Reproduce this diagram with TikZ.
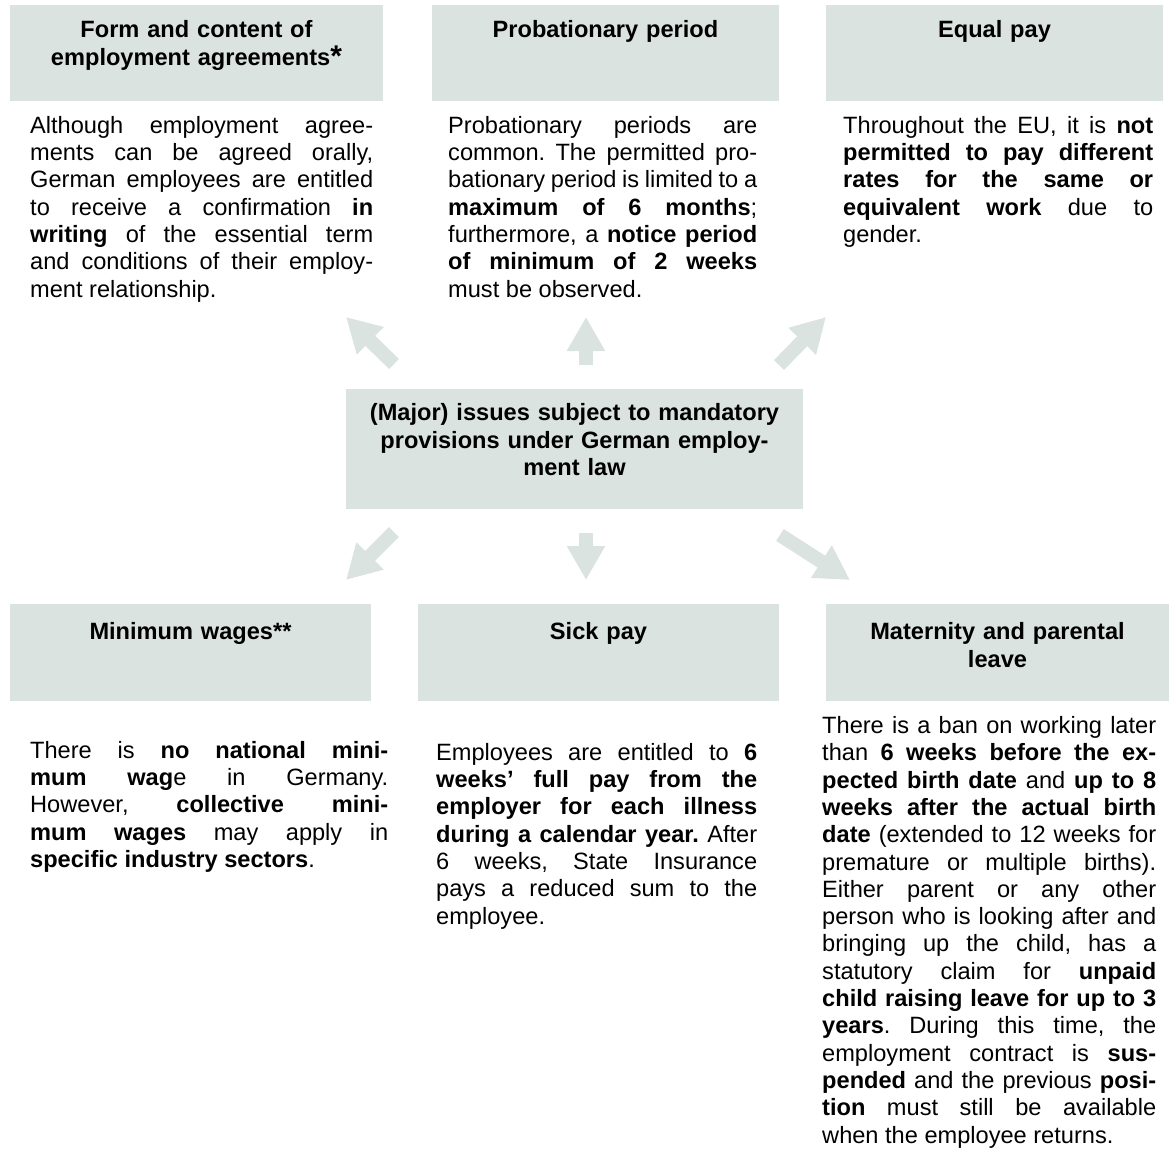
\documentclass[tikz,border=0pt]{standalone}
\usepackage{fontspec}
\setmainfont{Liberation Sans}
\usetikzlibrary{arrows.meta}
\definecolor{panelfill}{RGB}{218,227,224}
\newcommand{\txtsize}{\fontsize{23.6}{27.3}\selectfont}
\newcommand{\bodysetup}{\txtsize\frenchspacing\tolerance=10000 \hyphenpenalty=10000 \parindent=0pt}
\newcommand{\topstrut}{\rule{0pt}{20pt}}
\setlength{\parindent}{0pt}
\frenchspacing

\begin{document}
\begin{tikzpicture}[x=1pt,y=-1pt,
  panel/.style={fill=panelfill, draw=none, inner sep=0pt, anchor=north west},
  headtext/.style={font=\txtsize\bfseries, align=center, inner sep=0pt, anchor=north},
  bodytext/.style={font=\bodysetup, align=justify, inner sep=0pt, anchor=north west},
  fatarrow/.style={draw=panelfill, line width=14pt, -{Triangle[length=34pt,width=36pt]}}]

\fill[white] (0,0) rectangle (1169,1151);
\useasboundingbox (0,0) rectangle (1169,1151);

% --- grey header panels ---
\node[panel, minimum width=373pt, minimum height=96pt] (b1) at (10,5) {};
\node[panel, minimum width=347pt, minimum height=96pt] (b2) at (432,5) {};
\node[panel, minimum width=337pt, minimum height=96pt] (b3) at (826,5) {};
\node[panel, minimum width=457pt, minimum height=120pt] (hub) at (346,389) {};
\node[panel, minimum width=361pt, minimum height=97pt] (b4) at (10,604) {};
\node[panel, minimum width=361pt, minimum height=97pt] (b5) at (418,604) {};
\node[panel, minimum width=343pt, minimum height=97pt] (b6) at (826,604) {};

% --- header titles ---
\node[headtext, text width=353pt] (h1) at (196.5,17.3)
  {\topstrut Form and content of\\[1pt]
   employment agreements\raisebox{-1pt}{\fontsize{30}{30}\selectfont *}};
\node[headtext, text width=327pt] (h2) at (605.5,17.3) {\topstrut Probationary period};
\node[headtext, text width=317pt] (h3) at (994.5,17.3) {\topstrut Equal pay};
\node[headtext, text width=341pt] (h4) at (190.5,619) {\topstrut Minimum wages**};
\node[headtext, text width=341pt] (h5) at (598.5,619) {\topstrut Sick pay};
\node[headtext, text width=323pt] (h6) at (997.5,619)
  {\topstrut Maternity and parental\\[1pt] leave};

% --- central topic ---
\node[headtext, text width=440pt] (hubtext) at (574.5,400.7)
  {\topstrut (Major) issues subject to mandatory\\
   provisions under German employ-\\
   ment law};

% --- explanatory paragraphs ---
\node[bodytext, text width=343pt] (c1) at (30,113)
  {\noindent\topstrut Although employment agree-\linebreak
   ments can be agreed orally,\linebreak
   German employees are entitled\linebreak
   to receive a confirmation \textbf{in}\linebreak
   \textbf{writing} of the essential term\linebreak
   and conditions of their employ-\linebreak
   ment relationship.};

\node[bodytext, text width=309pt] (c2) at (448,113)
  {\noindent\topstrut Probationary periods are\linebreak
   common. The permitted pro-\linebreak
   bationary period is limited to a\linebreak
   \textbf{maximum of 6 months};\linebreak
   furthermore, a \textbf{notice period}\linebreak
   \textbf{of minimum of 2 weeks}\linebreak
   must be observed.};

\node[bodytext, text width=310pt] (c3) at (843,113)
  {\noindent\topstrut Throughout the EU, it is \textbf{not}\linebreak
   \textbf{permitted to pay different}\linebreak
   \textbf{rates for the same or}\linebreak
   \textbf{equivalent work} due to\linebreak
   gender.};

\node[bodytext, text width=358pt] (c4) at (30,738)
  {\noindent\topstrut There is \textbf{no national mini-}\linebreak
   \textbf{mum wag}e in Germany.\linebreak
   However, \textbf{collective mini-}\linebreak
   \textbf{mum wages} may apply in\linebreak
   \textbf{specific industry sectors}.};

\node[bodytext, text width=321pt] (c5) at (436,740)
  {\noindent\topstrut Employees are entitled to \textbf{6}\linebreak
   \textbf{weeks' full pay from the}\linebreak
   \textbf{employer for each illness}\linebreak
   \textbf{during a calendar year.} After\linebreak
   6 weeks, State Insurance\linebreak
   pays a reduced sum to the\linebreak
   employee.};

\node[bodytext, text width=334pt] (c6) at (822,713.3)
  {\noindent\topstrut There is a ban on working later\linebreak
   than \textbf{6 weeks before the ex-}\linebreak
   \textbf{pected birth date} and \textbf{up to 8}\linebreak
   \textbf{weeks after the actual birth}\linebreak
   \textbf{date} (extended to 12 weeks for\linebreak
   premature or multiple births).\linebreak
   Either parent or any other\linebreak
   person who is looking after and\linebreak
   bringing up the child, has a\linebreak
   statutory claim for \textbf{unpaid}\linebreak
   \textbf{child raising leave for up to 3}\linebreak
   \textbf{years}. During this time, the\linebreak
   employment contract is \textbf{sus-}\linebreak
   \textbf{pended} and the previous \textbf{posi-}\linebreak
   \textbf{tion} must still be available\linebreak
   when the employee returns.};

% --- block arrows radiating from the central topic ---
\coordinate (ulTail) at (394,364);  \coordinate (ulTip) at (346,317);
\coordinate (upTail) at (586,365);  \coordinate (upTip) at (586,317);
\coordinate (urTail) at (779,365);  \coordinate (urTip) at (826,317);
\coordinate (dlTail) at (394,532);  \coordinate (dlTip) at (346,580);
\coordinate (dnTail) at (586,533);  \coordinate (dnTip) at (586,580);
\coordinate (drTail) at (780,535);  \coordinate (drTip) at (850,580);

\draw[fatarrow] (ulTail) -- (ulTip);
\draw[fatarrow] (upTail) -- (upTip);
\draw[fatarrow] (urTail) -- (urTip);
\draw[fatarrow] (dlTail) -- (dlTip);
\draw[fatarrow] (dnTail) -- (dnTip);
\draw[fatarrow] (drTail) -- (drTip);

\end{tikzpicture}
\end{document}
